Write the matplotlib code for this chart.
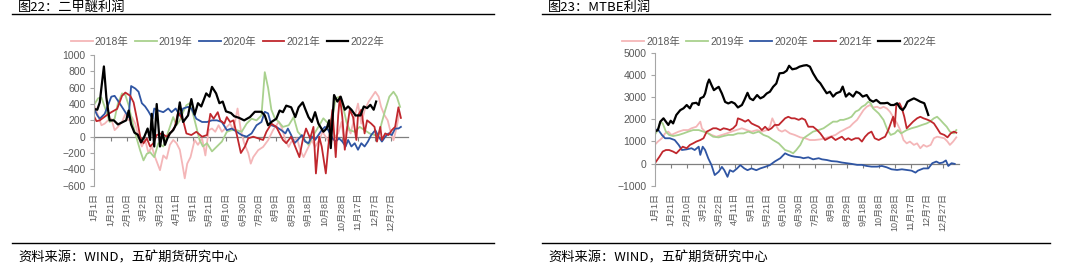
import matplotlib
matplotlib.use("Agg")
import matplotlib.pyplot as plt

plt.rcParams["font.family"] = ["Liberation Sans", "Noto Sans CJK SC"]
plt.rcParams["axes.unicode_minus"] = True

# ---- 图22 二甲醚利润 (day of year, value) ----
DME_2018 = [(0, 390), (5, 260), (9, 140), (13, 160), (17, 200), (21, 220), (25, 80), (29, 120), (34, 180),
            (38, 280), (42, 200), (46, 240), (50, 160), (54, 0), (58, -120), (62, -40), (66, -200), (70, -120),
            (74, -250), (80, -410), (84, -230), (88, -270), (92, -100), (96, -40), (100, -80), (104, -160),
            (107, -330), (110, -510), (113, -330), (117, -250), (122, -40), (126, -100), (131, -20), (135, -230),
            (139, 80), (143, 100), (147, 60), (151, 140), (155, 60), (161, 120), (165, 160), (169, 80), (174, 345),
            (178, 80), (182, -80), (187, -200), (190, -330), (193, -250), (199, -165), (205, -125), (211, -43),
            (217, 80), (224, 182), (228, 100), (232, -43), (236, -125), (239, -65), (246, -20), (250, -165),
            (254, -250), (258, -165), (264, -43), (268, -125), (273, -43), (277, 60), (282, -20), (286, -85),
            (290, -20), (296, 40), (300, 180), (303, -43), (307, 120), (311, 40), (316, 245), (320, 405),
            (324, 160), (328, 325), (333, 430), (337, 490), (341, 550), (345, 490), (348, 365), (352, 265),
            (356, 200), (359, 80), (363, -43), (367, 120), (370, 285)]
DME_2019 = [(0, 390), (5, 470), (9, 480), (13, 365), (19, 180), (25, 220), (29, 410), (34, 530), (38, 510),
            (42, 385), (46, 200), (50, 40), (56, -170), (60, -290), (64, -210), (68, -190), (73, -250), (78, -80),
            (84, -120), (88, 0), (92, 120), (96, 240), (100, 140), (104, 200), (108, 300), (112, 385), (116, 410),
            (120, 280), (124, 120), (128, -40), (132, -120), (137, -80), (143, -180), (149, -120), (155, -60),
            (161, 60), (167, 80), (173, 80), (179, 60), (185, 160), (191, 220), (197, 200), (203, 260), (207, 790),
            (211, 600), (215, 330), (219, 230), (224, 180), (229, 120), (236, 140), (242, 240), (247, 60),
            (254, -20), (260, -100), (266, 20), (272, 120), (278, 225), (284, 160), (289, 240), (293, 470),
            (298, 490), (302, 365), (306, 180), (310, 80), (316, 60), (322, 120), (328, 80), (334, 40), (340, 20),
            (345, 20), (349, 180), (353, 325), (358, 490), (363, 550), (367, 490), (371, 365)]
DME_2020 = [(0, 345), (4, 260), (7, 220), (13, 280), (17, 385), (21, 490), (25, 500), (31, 410), (38, 300),
            (42, 240), (45, 620), (50, 590), (54, 550), (58, 410), (62, 370), (66, 310), (71, 220), (73, 345),
            (78, 320), (84, 300), (90, 345), (94, 300), (99, 345), (104, 260), (108, 345), (114, 365), (118, 345),
            (124, 220), (131, 180), (137, 180), (143, 200), (149, 200), (155, 180), (161, 80), (167, 100),
            (173, 60), (179, 20), (185, 0), (191, 40), (197, 140), (203, 180), (207, 305), (211, 285), (215, 140),
            (221, 120), (227, 80), (232, 40), (235, 100), (239, 20), (243, -80), (247, -40), (252, 20), (256, -60),
            (260, -80), (264, 0), (268, -40), (272, 20), (276, 80), (280, 120), (284, 80), (289, -20), (293, -60),
            (297, -20), (301, -60), (305, -120), (308, -40), (312, -120), (316, -80), (320, -160), (324, -80),
            (328, -120), (332, -60), (336, 20), (341, 80), (345, 0), (349, -60), (353, 0), (357, 40), (361, 20),
            (365, 100), (369, 100), (372, 120)]
DME_2021 = [(0, 250), (3, 190), (7, 200), (11, 230), (15, 260), (21, 300), (28, 340), (34, 500), (38, 540),
            (44, 500), (48, 420), (52, 220), (56, 0), (60, -80), (64, -20), (68, -120), (72, -80), (76, 20),
            (82, 40), (88, 0), (94, 60), (98, 120), (102, 300), (108, 200), (112, 40), (118, 20), (124, 60),
            (131, 0), (137, 20), (141, 280), (145, 220), (150, 300), (153, 200), (158, 160), (161, 240), (165, 180),
            (169, 200), (174, -15), (178, -200), (183, -120), (187, -20), (193, 0), (199, -20), (205, -40),
            (209, 60), (215, 160), (221, 120), (225, 40), (229, -40), (233, -80), (239, 0), (245, -150),
            (249, -250), (253, -40), (257, 100), (262, -20), (266, 120), (269, -450), (273, 0), (276, -120),
            (281, -450), (284, -120), (289, 330), (291, 40), (293, -250), (296, 260), (298, 490), (301, 240),
            (304, -160), (307, 120), (310, 330), (314, 240), (318, -40), (320, 260), (324, 330), (328, 40),
            (331, 200), (336, 160), (340, 120), (343, -60), (347, 120), (349, -40), (353, 40), (357, 20), (361, 80),
            (365, 120), (369, 360), (372, 230)]
DME_2022 = [(0, 340), (4, 330), (7, 420), (9, 600), (12, 860), (15, 480), (17, 330), (19, 200), (24, 200),
            (29, 150), (35, 180), (39, 200), (42, 320), (45, 150), (49, 50), (53, 25), (57, -70), (61, 0), (65, 100),
            (68, -40), (70, 280), (73, -120), (76, 400), (80, -120), (83, 60), (86, -100), (89, -20), (92, 40),
            (96, 80), (100, 160), (104, 420), (108, 180), (114, 260), (118, 460), (122, 270), (126, 410), (130, 370),
            (136, 530), (140, 490), (143, 610), (148, 530), (152, 410), (156, 430), (160, 310), (166, 290),
            (170, 250), (176, 230), (182, 200), (189, 240), (195, 305), (203, 305), (207, 260), (211, 140),
            (215, 180), (221, 220), (225, 320), (229, 300), (233, 380), (239, 360), (244, 240), (248, 360),
            (253, 420), (256, 340), (260, 240), (264, 180), (268, 300), (272, 160), (278, 60), (282, 100),
            (285, 200), (287, -140), (289, 200), (291, 510), (295, 430), (299, 490), (304, 330), (308, 370),
            (312, 330), (317, 260), (323, 260), (327, 370), (331, 350), (335, 390), (339, 330), (342, 430)]

# ---- 图23 MTBE利润 ----
MTBE_2018 = [(0, 840), (4, 990), (9, 1140), (13, 1360), (17, 1440), (21, 1290), (25, 1360), (30, 1440),
             (36, 1510), (42, 1510), (46, 1590), (52, 1660), (57, 1890), (59, 1590), (63, 1440), (67, 1360),
             (71, 1290), (77, 1210), (84, 1290), (90, 1360), (96, 1440), (102, 1510), (109, 1590), (115, 1510),
             (121, 1440), (128, 1510), (134, 1440), (140, 1510), (144, 1660), (147, 2040), (150, 1810), (155, 1510),
             (159, 1440), (163, 1510), (169, 1360), (175, 1290), (182, 1180), (188, 1140), (194, 1060), (200, 1060),
             (207, 1090), (213, 1140), (219, 1210), (226, 1290), (232, 1440), (236, 1510), (240, 1590), (244, 1660),
             (248, 1810), (253, 1970), (257, 2190), (261, 2410), (265, 2560), (269, 2640), (273, 2530), (278, 2560),
             (282, 2490), (286, 2560), (290, 2490), (294, 2340), (298, 2110), (303, 1810), (307, 1510), (311, 1060),
             (315, 910), (319, 990), (324, 840), (328, 910), (332, 690), (336, 840), (340, 760), (345, 840),
             (349, 1140), (353, 1210), (357, 1180), (362, 1140), (366, 990), (369, 840), (373, 990), (377, 1180)]
MTBE_2019 = [(0, 1290), (4, 1510), (7, 1890), (10, 1810), (14, 1440), (18, 1290), (23, 1240), (30, 1290),
             (36, 1360), (42, 1440), (48, 1510), (55, 1510), (61, 1440), (67, 1360), (73, 1210), (80, 1180),
             (86, 1240), (92, 1290), (98, 1290), (104, 1360), (111, 1360), (117, 1440), (123, 1360), (130, 1440),
             (136, 1290), (142, 1210), (148, 1060), (155, 910), (159, 760), (163, 610), (169, 540), (173, 460),
             (177, 610), (182, 840), (186, 1140), (192, 1290), (198, 1440), (205, 1510), (211, 1590), (217, 1740),
             (223, 1890), (228, 1890), (232, 1970), (236, 1970), (242, 2040), (246, 2110), (251, 2340), (255, 2410),
             (259, 2560), (263, 2640), (267, 2790), (270, 2720), (273, 2490), (280, 2260), (286, 1970), (291, 1510),
             (295, 1290), (300, 1360), (304, 1510), (308, 1360), (315, 1510), (321, 1590), (328, 1660), (334, 1740),
             (340, 1810), (344, 1890), (349, 2040), (353, 2110), (357, 1970), (361, 1810), (365, 1660), (369, 1440),
             (374, 1360), (377, 1510)]
MTBE_2020 = [(0, 1510), (4, 1540), (9, 1290), (13, 1140), (19, 1140), (25, 1060), (30, 840), (34, 610), (40, 640),
             (46, 690), (50, 610), (55, 760), (57, 390), (60, 760), (63, 610), (67, 230), (71, -70), (75, -520),
             (80, -370), (84, -150), (87, -300), (91, -600), (94, -300), (98, -370), (103, -220), (107, -70),
             (112, -220), (116, -300), (121, -220), (127, -300), (132, -220), (138, -150), (144, -70), (150, 90),
             (157, 240), (163, 460), (167, 390), (171, 340), (175, 310), (182, 280), (186, 240), (192, 280),
             (198, 190), (205, 240), (209, 190), (215, 160), (221, 110), (228, 90), (234, 45), (240, 15), (246, -15),
             (253, -60), (259, -60), (265, -110), (271, -140), (278, -140), (284, -110), (290, -170), (296, -260),
             (303, -290), (309, -260), (315, -290), (321, -320), (326, -410), (329, -320), (336, -220), (342, -220),
             (347, 15), (352, 90), (356, 15), (360, 45), (364, 140), (367, -110), (371, 15), (375, -15)]
MTBE_2021 = [(0, 0), (6, 310), (10, 540), (14, 610), (18, 610), (23, 540), (27, 460), (31, 610), (35, 760),
             (40, 690), (44, 840), (48, 910), (52, 990), (57, 1060), (61, 1140), (65, 1440), (69, 1510), (73, 1590),
             (77, 1590), (82, 1510), (86, 1590), (90, 1560), (94, 1510), (98, 1590), (102, 1740), (104, 2040),
             (109, 1970), (113, 1890), (117, 1970), (121, 1810), (125, 1740), (130, 1660), (134, 1510), (138, 1660),
             (142, 1510), (146, 1590), (150, 1740), (155, 1740), (159, 1890), (163, 2040), (167, 2110), (171, 2040),
             (175, 2040), (180, 1970), (184, 2040), (188, 1970), (192, 1660), (198, 1660), (203, 1510), (207, 1360),
             (213, 1060), (217, 1140), (221, 1210), (226, 1060), (230, 1140), (234, 1210), (238, 1060), (242, 1140),
             (246, 1060), (251, 1140), (255, 1140), (259, 990), (263, 1210), (267, 1360), (271, 1440), (275, 1140),
             (280, 1060), (284, 1140), (288, 1210), (292, 1510), (295, 1810), (298, 2110), (300, 1660), (302, 2640),
             (306, 2720), (309, 2490), (312, 2110), (315, 1590), (319, 1740), (323, 1890), (328, 2040), (332, 2110),
             (336, 2040), (340, 1990), (344, 1930), (349, 1810), (353, 1590), (357, 1360), (362, 1290), (366, 1180),
             (370, 1360), (374, 1440), (377, 1390)]
MTBE_2022 = [(0, 1440), (4, 1510), (7, 1890), (11, 2040), (14, 1890), (17, 1740), (20, 1930), (23, 1810),
             (27, 2190), (32, 2410), (36, 2490), (40, 2640), (44, 2490), (47, 2710), (52, 2740), (55, 2640),
             (57, 2940), (61, 3010), (63, 3160), (66, 3610), (68, 3790), (71, 3540), (74, 3310), (77, 3390),
             (80, 3460), (84, 3160), (88, 2780), (92, 2710), (96, 2780), (100, 2710), (104, 2530), (109, 2640),
             (112, 2860), (116, 3190), (119, 2940), (123, 2860), (128, 3090), (132, 2940), (136, 3010), (140, 3160),
             (144, 3240), (148, 3460), (152, 3610), (156, 4070), (161, 4090), (165, 4190), (168, 4410), (172, 4250),
             (177, 4290), (181, 4370), (186, 4420), (190, 4440), (194, 4370), (198, 4070), (203, 3770), (207, 3620),
             (211, 3390), (215, 3170), (219, 3240), (223, 3020), (227, 3170), (232, 3240), (235, 3470), (239, 3020),
             (243, 3170), (248, 3020), (252, 3240), (256, 3170), (260, 3020), (265, 3090), (269, 2870), (273, 2790),
             (277, 2870), (282, 2720), (287, 2720), (291, 2740), (295, 2640), (299, 2640), (303, 2720), (307, 2490),
             (310, 2410), (313, 2560), (316, 2790), (320, 2870), (324, 2940), (328, 2870), (332, 2790), (337, 2720),
             (340, 2410), (342, 2190)]

YEARS = ["2018年", "2019年", "2020年", "2021年", "2022年"]
COLORS = ["#F4B6B8", "#A9D18E", "#2F55A3", "#C0272D", "#000000"]
WIDTHS = [1.3, 1.3, 1.3, 1.3, 1.6]

TICK_DAYS = list(range(0, 361, 20))
TICK_LABELS = ["1月1日", "1月21日", "2月10日", "3月2日", "3月22日", "4月11日", "5月1日", "5月21日", "6月10日",
               "6月30日", "7月20日", "8月9日", "8月29日", "9月18日", "10月8日", "10月28日", "11月17日",
               "12月7日", "12月27日"]

GRAY = "#7F7F7F"
TXT = "#595959"
CJK = ["Noto Sans CJK SC", "DejaVu Sans"]


def draw_panel(ax, series, yticks, legend_x, legend_y):
    for data, name, c, lw in zip(series, YEARS, COLORS, WIDTHS):
        xs = [p[0] for p in data]
        ys = [p[1] for p in data]
        ax.plot(xs, ys, color=c, lw=lw, label=name)
    ax.set_xlim(0, 380)
    ax.set_ylim(yticks[0], yticks[-1])
    ax.set_yticks(yticks)
    ax.set_xticks(TICK_DAYS)
    ax.set_xticklabels(TICK_LABELS)
    for s in ["top", "right", "bottom"]:
        ax.spines[s].set_visible(False)
    ax.spines["left"].set_color("#A6A6A6")
    ax.tick_params(axis="y", length=3, color="#A6A6A6", labelsize=7.5, labelcolor=TXT, pad=3)
    ax.tick_params(axis="x", length=0, labelsize=6.5, labelcolor=TXT, labelrotation=90, pad=5)

    # zero line carrying the category ticks
    sec = ax.secondary_xaxis(0, transform=ax.transData)
    sec.set_xticks(TICK_DAYS)
    sec.tick_params(axis="x", length=3, color=GRAY, labelbottom=False)
    sec.spines["bottom"].set_color(GRAY)
    sec.spines["bottom"].set_linewidth(0.9)

    ax.legend(loc="center", bbox_to_anchor=(legend_x, legend_y), ncol=5, frameon=False,
              fontsize=7.5, labelcolor=TXT, handlelength=2.1, handletextpad=0.2, columnspacing=0.6,
              borderaxespad=0)


fig = plt.figure(figsize=(10.8, 2.74), dpi=100)

ax1 = fig.add_axes([94 / 1080, 1 - 185.7 / 274, 313.5 / 1080, 130.7 / 274])
draw_panel(ax1, [DME_2018, DME_2019, DME_2020, DME_2021, DME_2022],
           list(range(-600, 1001, 200)), 0.426, 1.099)

ax2 = fig.add_axes([654.7 / 1080, 1 - 185.7 / 274, 304 / 1080, 133 / 274])
draw_panel(ax2, [MTBE_2018, MTBE_2019, MTBE_2020, MTBE_2021, MTBE_2022],
           list(range(-1000, 5001, 1000)), 0.409, 1.08)

# titles, rules and source notes
for x0, x1, title in [(12, 494, "图22：二甲醚利润"), (542, 1050, "图23：MTBE利润")]:
    fig.text((x0 + 6) / 1080, 1 - 7 / 274, title, family=CJK, fontsize=9.5, va="center", ha="left")
    fig.text((x0 + 6) / 1080, 1 - 258 / 274, "资料来源：WIND，五矿期货研究中心", family=CJK,
             fontsize=9.5, va="center", ha="left")
    for yy in [14, 243]:
        fig.add_artist(plt.Line2D([x0 / 1080, x1 / 1080], [1 - yy / 274, 1 - yy / 274],
                                  color="black", lw=1.0, transform=fig.transFigure))

fig.savefig("out.png", dpi=100)
